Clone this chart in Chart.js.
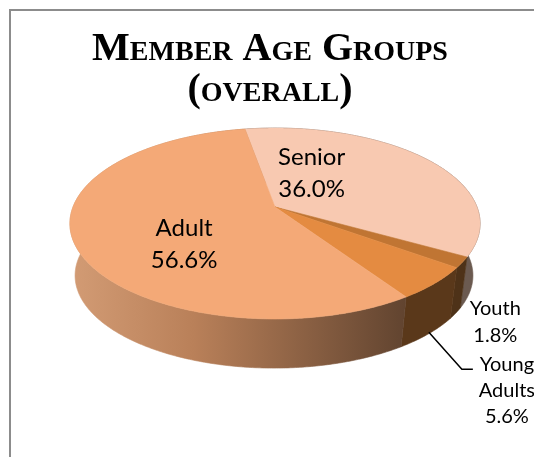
<!DOCTYPE html>
<html>
<head>
<meta charset="utf-8">
<title>Member Age Groups</title>
<script src="https://cdn.jsdelivr.net/npm/chart.js@4/dist/chart.umd.min.js"></script>
<style>
    html, body { margin: 0; padding: 0; background: #fff; }
    #wrap { position: relative; width: 534px; height: 457px; overflow: hidden; }
    #frame { position: absolute; left: 9px; top: 9px; width: 600px; height: 600px; border: 2px solid #8c8c8c; }
    canvas { position: absolute; left: 0; top: 0; }
</style>
</head>
<body>
<div id="wrap">
    <div id="frame"></div>
    <canvas id="ageChart" width="534" height="457"></canvas>
</div>
<script>
const categories = ['Senior', 'Youth', 'Young Adults', 'Adult'];
const shares = [36.0, 1.8, 5.6, 56.6];
const shareLabels = ['36.0%', '1.8%', '5.6%', '56.6%'];
const titleLines = ['Member Age Groups', '(overall)'];

const topColors = ['#f8c9b1', '#c07533', '#e48b41', '#f4a977'];

// how the flat pie gets tilted into the 3D look of the original
const view = { cx: 275, cy: 207, rx: 202, ry: 92.6, tilt: 0.173, depth: 52.5, floor: 0.97, floorCx: 274 };

function project(angle, r, bottom) {
    const u = Math.cos(angle) * r;
    const v = Math.sin(angle) * r;
    const w = 1 - view.tilt * v;
    const s = bottom ? view.floor : 1;
    return {
        x: (bottom ? view.floorCx : view.cx) + s * view.rx * u / w,
        y: view.cy + (bottom ? view.depth : 0) + s * view.ry * v / w
    };
}

function tracePath(ctx, points) {
    ctx.beginPath();
    points.forEach((p, i) => (i ? ctx.lineTo(p.x, p.y) : ctx.moveTo(p.x, p.y)));
    ctx.closePath();
}

function sampleAngles(start, end) {
    const steps = Math.max(2, Math.ceil((end - start) / 0.01));
    const out = [];
    for (let i = 0; i <= steps; i++) out.push(start + (end - start) * i / steps);
    return out;
}

function wallFill(ctx, index) {
    const g = ctx.createLinearGradient(view.cx - view.rx, 0, view.cx + view.rx, 0);
    if (index === 3) {
        g.addColorStop(0, '#d29b74');
        g.addColorStop(0.3, '#b98059');
        g.addColorStop(0.83, '#60432f');
        return g;
    }
    if (index === 0) return '#6b5a50';
    if (index === 1) return '#4e3218';
    return '#5a381a';
}

const pie3dPlugin = {
    id: 'pie3d',
    beforeDatasetDraw(chart, args) {
        const ctx = chart.ctx;
        const arcs = chart.getDatasetMeta(args.index).data;
        ctx.save();
        ctx.lineWidth = 0.6;

        // side wall first, the top face covers whatever is behind it
        arcs.forEach((arc, i) => {
            const { startAngle, endAngle } = arc.getProps(['startAngle', 'endAngle'], true);
            const angles = sampleAngles(startAngle, endAngle);
            const rim = angles.map(a => project(a, 1, false));
            const floor = angles.slice().reverse().map(a => project(a, 1, true));
            tracePath(ctx, rim.concat(floor));
            ctx.fillStyle = ctx.strokeStyle = wallFill(ctx, i);
            ctx.fill();
            ctx.stroke();
        });

        // top face
        arcs.forEach((arc, i) => {
            const { startAngle, endAngle } = arc.getProps(['startAngle', 'endAngle'], true);
            const rim = sampleAngles(startAngle, endAngle).map(a => project(a, 1, false));
            tracePath(ctx, [project(0, 0, false)].concat(rim));
            ctx.fillStyle = ctx.strokeStyle = arc.options.backgroundColor;
            ctx.fill();
            ctx.stroke();
        });

        ctx.restore();
        return false;
    },
    afterDatasetsDraw(chart, args, opts) {
        const ctx = chart.ctx;
        const arcs = chart.getDatasetMeta(0).data;
        ctx.save();
        ctx.fillStyle = '#000';
        ctx.textAlign = 'center';
        ctx.textBaseline = 'middle';

        arcs.forEach((arc, i) => {
            const { startAngle, endAngle } = arc.getProps(['startAngle', 'endAngle'], true);
            const spot = opts.spots[i];
            const p = project((startAngle + endAngle) / 2, spot.r, false);
            const x = p.x + spot.dx;
            const y = p.y + spot.dy;
            const lines = spot.split.concat(shareLabels[i]);
            ctx.font = spot.size + 'px Lato';
            lines.forEach((line, n) => {
                ctx.fillText(line, x, y + (n - (lines.length - 1) / 2) * spot.lead);
            });
            if (spot.leader) {
                ctx.strokeStyle = '#000';
                ctx.lineWidth = 1.5;
                ctx.beginPath();
                ctx.moveTo(x + spot.leader[0], y + spot.leader[1]);
                ctx.lineTo(x + spot.leader[2], y + spot.leader[3]);
                ctx.lineTo(x + spot.leader[4], y + spot.leader[3]);
                ctx.stroke();
            }
        });
        ctx.restore();
    }
};

new Chart(document.getElementById('ageChart'), {
    type: 'pie',
    data: {
        labels: categories,
        datasets: [{ data: shares, backgroundColor: topColors, borderWidth: 0 }]
    },
    plugins: [pie3dPlugin],
    options: {
        responsive: false,
        animation: false,
        rotation: -10,
        events: [],
        layout: { padding: { left: 6 } },
        plugins: {
            legend: { display: false },
            tooltip: { enabled: false },
            title: {
                display: true,
                text: titleLines,
                color: '#000',
                padding: { top: 29, bottom: 0 },
                font: { family: '"Liberation Serif"', size: 40, weight: 'small-caps bold', lineHeight: 1.03 }
            },
            pie3d: {
                spots: [
                    { r: 0.5, dx: -42, dy: -8, size: 24, lead: 32, split: ['Senior'] },
                    { r: 1, dx: 33, dy: 60, size: 20, lead: 27, split: ['Youth'] },
                    { r: 1, dx: 72, dy: 107, size: 20, lead: 26, split: ['Young', 'Adults'], leader: [-78, -58, -45, -21, -34] },
                    { r: 0.5, dx: 6, dy: 19, size: 24, lead: 32, split: ['Adult'] }
                ]
            }
        }
    }
});
</script>
</body>
</html>
